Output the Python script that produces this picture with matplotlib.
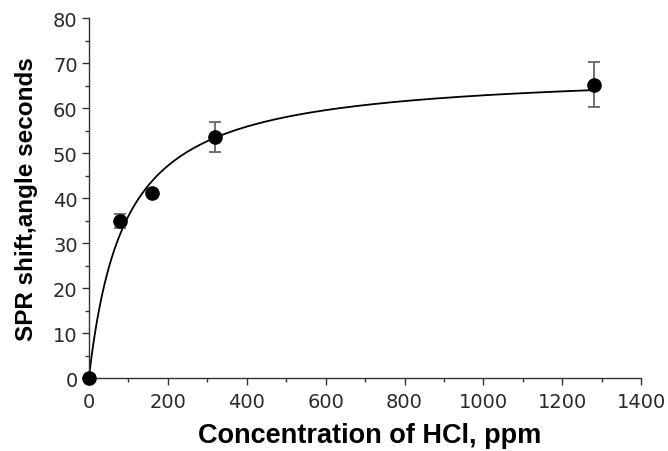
import numpy as np
import matplotlib.pyplot as plt
from matplotlib.ticker import MultipleLocator

# HCl concentration (ppm) vs SPR shift (angle seconds)
conc = [0, 80, 160, 320, 1280]
shift = [0, 35.0, 41.1, 53.6, 65.3]
err_lo = [0, 1.6, 0.5, 3.4, 5.1]
err_hi = [0, 1.6, 0.5, 3.3, 5.1]

# saturation fit y = a*x/(b+x)
fit_a = 68.6
fit_b = 90.5

plt.rcParams['font.family'] = ['Liberation Sans', 'DejaVu Sans']

fig = plt.figure(figsize=(6.68, 4.52), dpi=100)
ax = fig.add_axes([0.133, 0.161, 0.827, 0.796])

xs = np.linspace(0, conc[-1], 400)
ax.plot(xs, fit_a * xs / (fit_b + xs), color='black', lw=1.3, clip_on=False)

ax.errorbar(conc, shift, yerr=[err_lo, err_hi], fmt='o', color='black',
            ms=9.5, ecolor='#666666', elinewidth=1.3, capsize=4, capthick=1.3,
            clip_on=False, zorder=3)

ax.set_xlim(0, 1400)
ax.set_ylim(0, 80)
ax.xaxis.set_major_locator(MultipleLocator(200))
ax.xaxis.set_minor_locator(MultipleLocator(100))
ax.yaxis.set_major_locator(MultipleLocator(10))
ax.yaxis.set_minor_locator(MultipleLocator(5))

for s in ['top', 'right']:
    ax.spines[s].set_visible(False)
for s in ['left', 'bottom']:
    ax.spines[s].set_color('#333333')
    ax.spines[s].set_linewidth(1.0)

ax.tick_params(which='major', direction='out', length=5, width=1.0,
               color='#333333', labelsize=14, labelcolor='#2a2a2a', pad=3)
ax.tick_params(axis='x', which='major', pad=5)
ax.tick_params(which='minor', direction='out', length=3, width=1.0, color='#333333')
for lbl in ax.get_xticklabels() + ax.get_yticklabels():
    lbl.set_family('DejaVu Sans')

ax.set_xlabel('Concentration of HCl, ppm', fontsize=19.5, fontweight='bold', labelpad=8)
ax.set_ylabel('SPR shift,angle seconds', fontsize=17.5, fontweight='bold', labelpad=11)
ax.xaxis.label.set_x(0.508)

fig.savefig('out.png', dpi=100)
